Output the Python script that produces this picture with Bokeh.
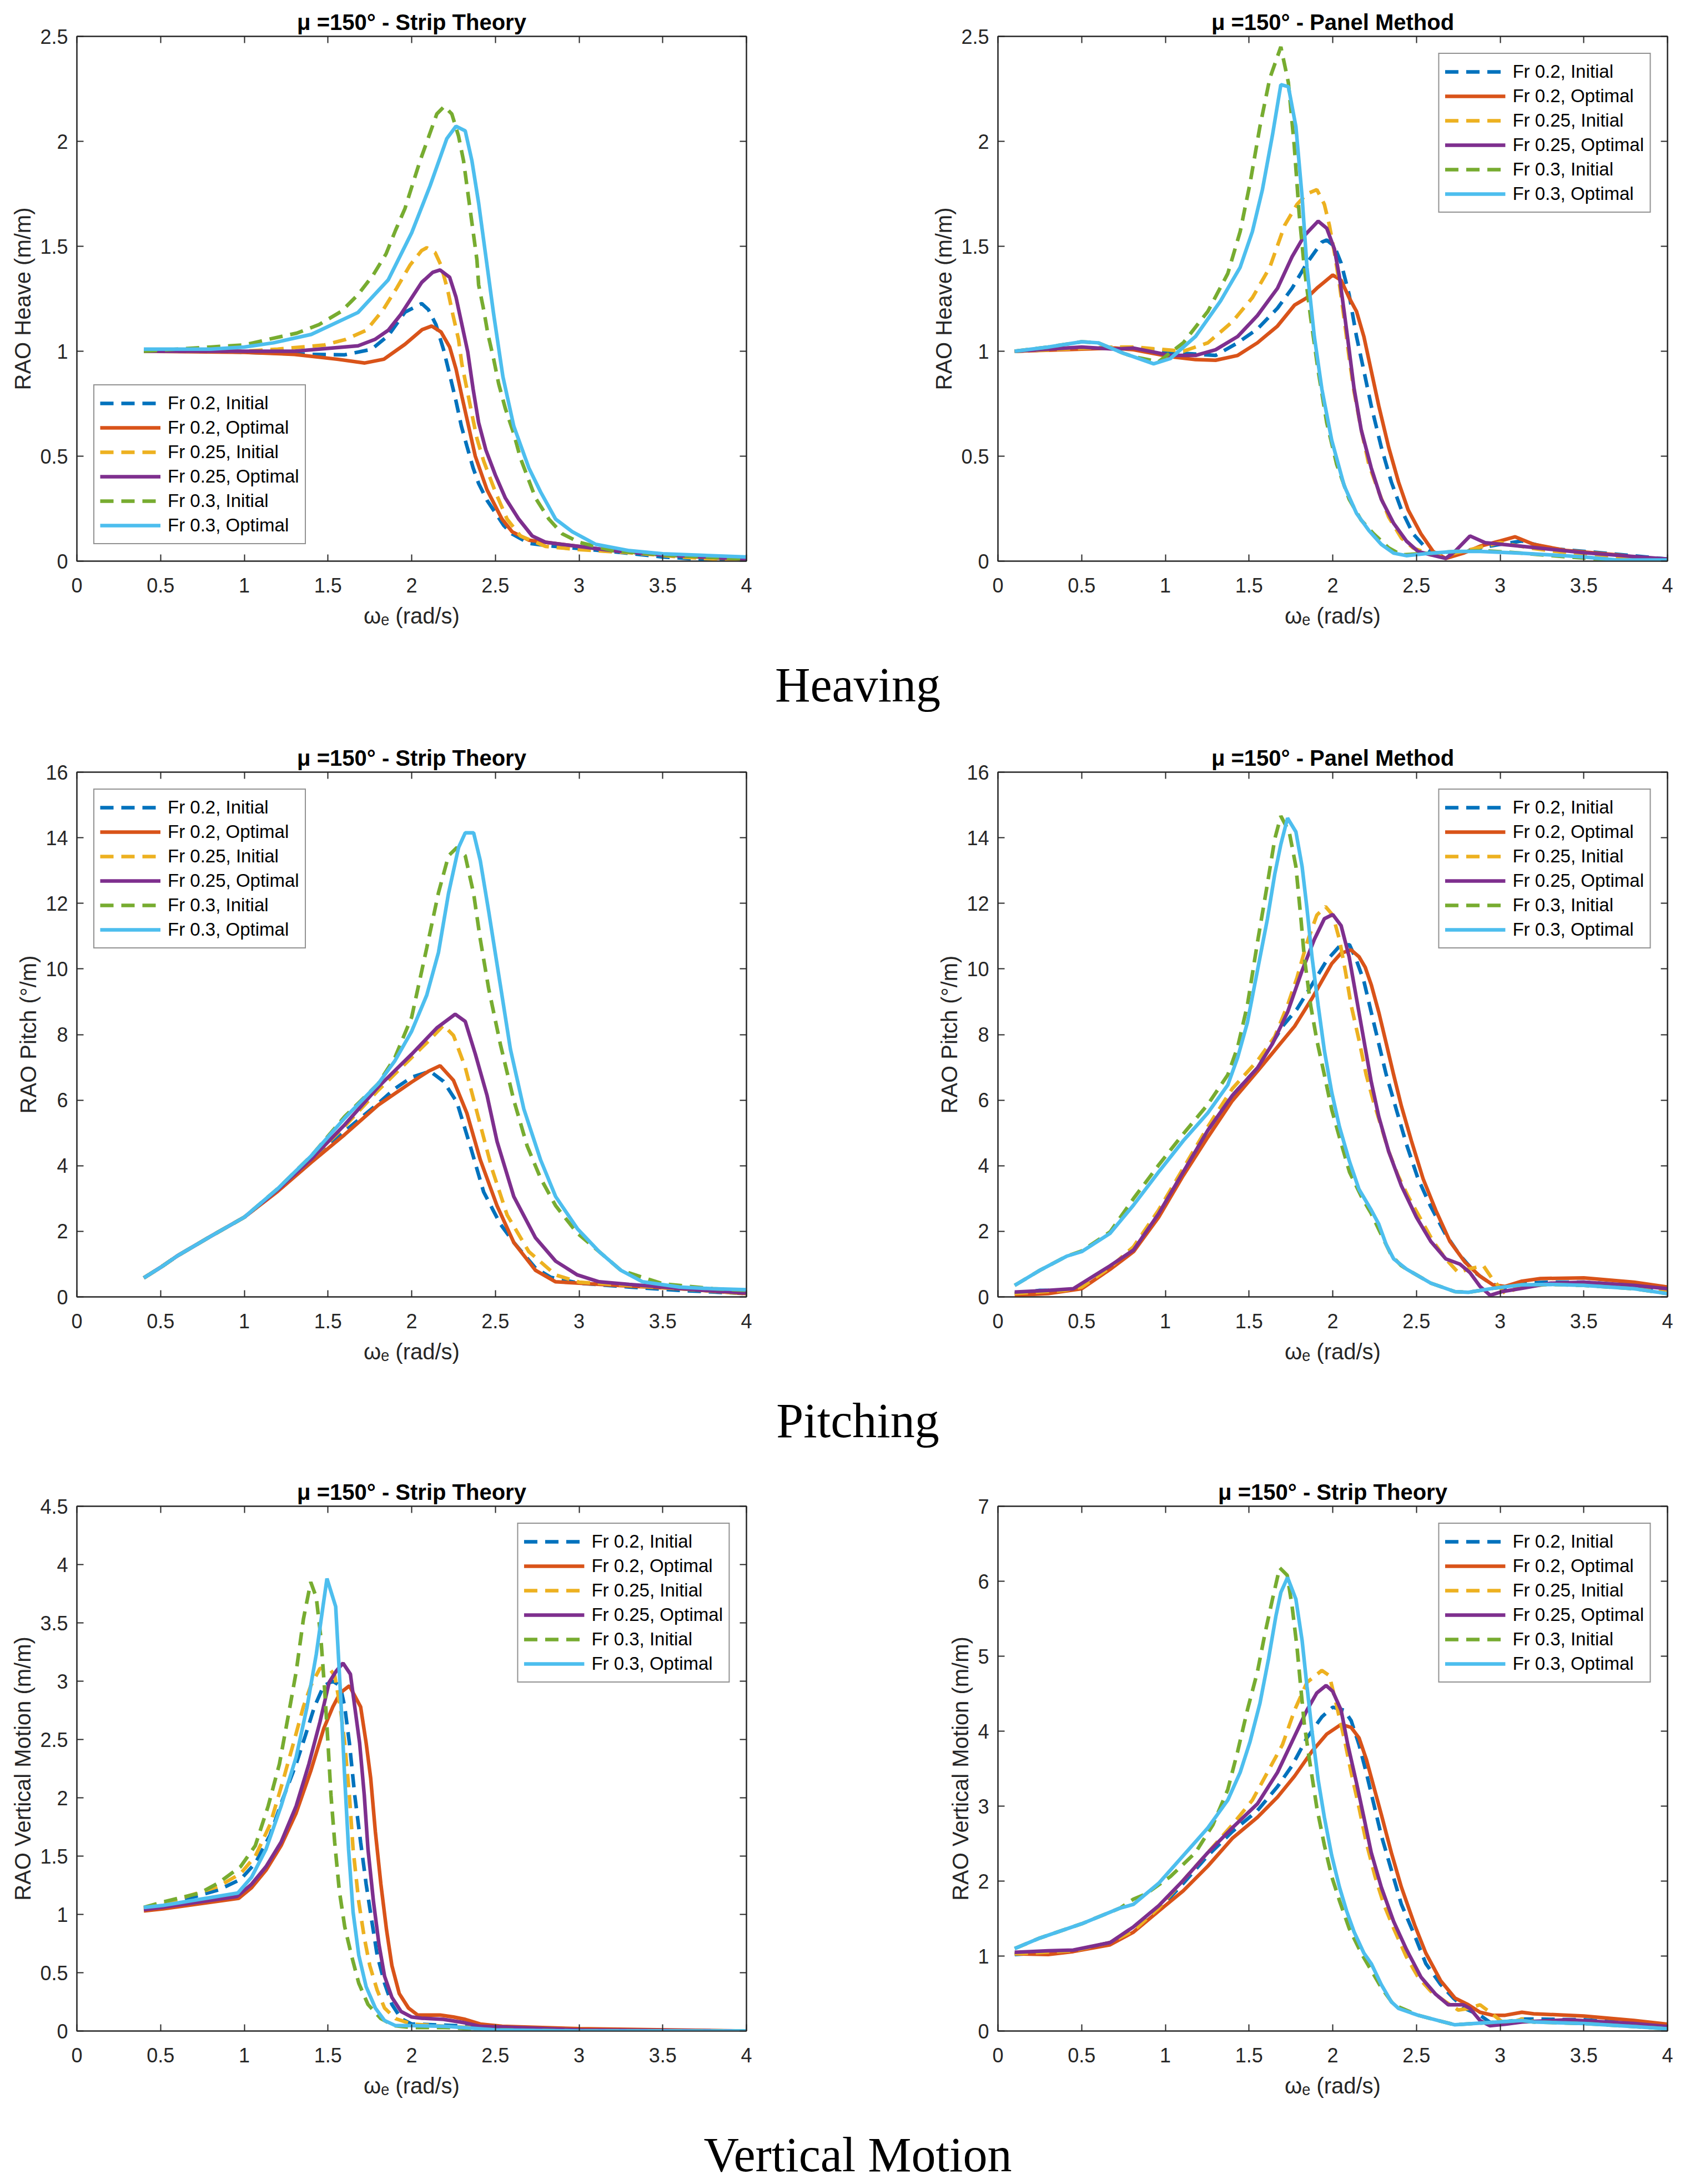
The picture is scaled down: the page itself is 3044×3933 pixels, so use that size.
from bokeh.plotting import figure
from bokeh.models import Range1d, FixedTicker, LinearAxis, CustomJSTickFormatter, Div
from bokeh.layouts import column, row
from bokeh.embed import file_html
from bokeh.resources import INLINE

# ---------------- data ----------------
SERIES_NAMES = ["Fr 0.2, Initial", "Fr 0.2, Optimal", "Fr 0.25, Initial",
                "Fr 0.25, Optimal", "Fr 0.3, Initial", "Fr 0.3, Optimal"]
COLORS = ["#0072BD", "#D95319", "#EDB120", "#7E2F8E", "#77AC30", "#4DBEEE"]

X_TICKS = [0, 0.5, 1, 1.5, 2, 2.5, 3, 3.5, 4]
X_TICK_LABELS = ["0", "0.5", "1", "1.5", "2", "2.5", "3", "3.5", "4"]
HEAVE_TICKS = [0, 0.5, 1, 1.5, 2, 2.5]
HEAVE_TICK_LABELS = ["0", "0.5", "1", "1.5", "2", "2.5"]
PITCH_TICKS = [0, 2, 4, 6, 8, 10, 12, 14, 16]
PITCH_TICK_LABELS = ["0", "2", "4", "6", "8", "10", "12", "14", "16"]
VM1_TICKS = [0, 0.5, 1, 1.5, 2, 2.5, 3, 3.5, 4, 4.5]
VM1_TICK_LABELS = ["0", "0.5", "1", "1.5", "2", "2.5", "3", "3.5", "4", "4.5"]
VM2_TICKS = [0, 1, 2, 3, 4, 5, 6, 7]
VM2_TICK_LABELS = ["0", "1", "2", "3", "4", "5", "6", "7"]

# Heave - strip theory
HS_x02i = [0.4, 0.8, 1.0, 1.2, 1.4, 1.6, 1.76, 1.86, 1.96, 2.06, 2.1, 2.145, 2.19, 2.23, 2.265, 2.297, 2.33, 2.367, 2.4, 2.45, 2.5, 2.55, 2.6, 2.7, 2.8, 3.0, 3.2, 3.5, 3.8, 4.0]
HS_y02i = [1.0, 1.0, 0.995, 0.99, 0.985, 0.983, 1.009, 1.074, 1.186, 1.227, 1.198, 1.127, 1.009, 0.879, 0.762, 0.643, 0.548, 0.444, 0.37, 0.29, 0.23, 0.17, 0.13, 0.085, 0.075, 0.06, 0.045, 0.02, 0.005, 0.0]
HS_x02o = [0.4, 1.0, 1.3, 1.555, 1.72, 1.834, 1.96, 2.063, 2.12, 2.175, 2.227, 2.265, 2.3, 2.34, 2.38, 2.45, 2.54, 2.6, 2.7, 2.8, 3.0, 3.2, 3.5, 3.8, 4.0]
HS_y02o = [1.0, 0.995, 0.985, 0.962, 0.944, 0.962, 1.033, 1.103, 1.12, 1.092, 1.02, 0.915, 0.785, 0.643, 0.5, 0.34, 0.2, 0.14, 0.1, 0.09, 0.07, 0.05, 0.03, 0.015, 0.01]
HS_x025i = [0.4, 1.0, 1.2, 1.48, 1.605, 1.73, 1.83, 1.91, 1.99, 2.06, 2.09, 2.14, 2.175, 2.215, 2.246, 2.28, 2.3, 2.33, 2.36, 2.39, 2.43, 2.5, 2.57, 2.65, 2.8, 3.0, 3.3, 3.6, 4.0]
HS_y025i = [1.0, 1.0, 1.01, 1.03, 1.056, 1.1, 1.198, 1.3, 1.41, 1.48, 1.493, 1.47, 1.41, 1.292, 1.175, 1.056, 0.938, 0.82, 0.7, 0.584, 0.477, 0.33, 0.2, 0.12, 0.07, 0.055, 0.04, 0.02, 0.0]
HS_x025o = [0.4, 1.0, 1.3, 1.68, 1.78, 1.86, 1.935, 2.06, 2.126, 2.17, 2.227, 2.265, 2.3, 2.335, 2.367, 2.4, 2.443, 2.5, 2.56, 2.64, 2.72, 2.8, 3.0, 3.2, 3.5, 4.0]
HS_y025o = [1.0, 1.0, 1.0, 1.026, 1.056, 1.1, 1.175, 1.328, 1.376, 1.387, 1.352, 1.257, 1.127, 0.997, 0.82, 0.66, 0.53, 0.41, 0.3, 0.2, 0.12, 0.09, 0.07, 0.05, 0.03, 0.01]
HS_x03i = [0.4, 0.8, 1.0, 1.174, 1.313, 1.447, 1.58, 1.68, 1.77, 1.847, 1.904, 1.96, 2.005, 2.05, 2.1, 2.15, 2.195, 2.24, 2.28, 2.31, 2.33, 2.35, 2.37, 2.39, 2.4, 2.43, 2.456, 2.49, 2.52, 2.56, 2.61, 2.65, 2.74, 2.82, 2.9, 3.0, 3.2, 3.5, 4.0]
HS_y03i = [1.0, 1.02, 1.03, 1.062, 1.086, 1.127, 1.19, 1.27, 1.363, 1.464, 1.577, 1.68, 1.794, 1.907, 2.018, 2.13, 2.167, 2.13, 2.025, 1.907, 1.788, 1.67, 1.553, 1.434, 1.316, 1.198, 1.08, 0.962, 0.844, 0.726, 0.607, 0.49, 0.3, 0.2, 0.13, 0.09, 0.05, 0.03, 0.01]
HS_x03o = [0.4, 0.8, 1.0, 1.174, 1.4, 1.68, 1.86, 2.0, 2.11, 2.21, 2.265, 2.32, 2.36, 2.4, 2.44, 2.49, 2.545, 2.61, 2.7, 2.77, 2.86, 2.96, 3.1, 3.3, 3.5, 4.0]
HS_y03o = [1.01, 1.01, 1.02, 1.04, 1.08, 1.185, 1.34, 1.564, 1.788, 2.013, 2.072, 2.05, 1.907, 1.706, 1.47, 1.175, 0.879, 0.643, 0.444, 0.33, 0.2, 0.14, 0.08, 0.05, 0.035, 0.02]

# Heave - panel method
HP_x02i = [0.1, 0.4, 0.7, 0.81, 1.107, 1.3, 1.432, 1.55, 1.67, 1.757, 1.846, 1.935, 1.964, 2.01, 2.05, 2.098, 2.142, 2.186, 2.23, 2.29, 2.35, 2.41, 2.48, 2.556, 2.615, 2.73, 2.88, 3.0, 3.13, 3.3, 3.6, 4.0]
HP_y02i = [1.0, 1.01, 1.02, 1.015, 0.99, 0.98, 1.04, 1.106, 1.205, 1.3, 1.42, 1.52, 1.53, 1.5, 1.42, 1.27, 1.07, 0.907, 0.74, 0.543, 0.377, 0.245, 0.13, 0.063, 0.03, 0.038, 0.063, 0.08, 0.096, 0.06, 0.04, 0.01]
HP_x02o = [0.1, 0.5, 0.7, 0.81, 1.03, 1.18, 1.3, 1.432, 1.55, 1.67, 1.772, 1.846, 1.905, 2.0, 2.05, 2.098, 2.142, 2.186, 2.23, 2.275, 2.334, 2.393, 2.45, 2.527, 2.6, 2.675, 2.78, 2.88, 3.0, 3.09, 3.2, 3.4, 3.7, 4.0]
HP_y02o = [1.0, 1.01, 1.015, 1.007, 0.974, 0.96, 0.957, 0.98, 1.04, 1.12, 1.22, 1.255, 1.3, 1.363, 1.338, 1.255, 1.19, 1.07, 0.907, 0.74, 0.543, 0.377, 0.245, 0.13, 0.046, 0.013, 0.038, 0.071, 0.096, 0.116, 0.08, 0.05, 0.03, 0.0]
HP_x025i = [0.1, 0.4, 0.7, 0.81, 1.107, 1.254, 1.4, 1.52, 1.624, 1.713, 1.787, 1.846, 1.905, 1.95, 1.98, 2.01, 2.04, 2.068, 2.098, 2.127, 2.17, 2.216, 2.275, 2.334, 2.41, 2.48, 2.586, 2.73, 3.0, 3.2, 3.5, 4.0]
HP_y025i = [1.0, 1.01, 1.02, 1.02, 1.0, 1.04, 1.14, 1.255, 1.4, 1.6, 1.7, 1.75, 1.77, 1.7, 1.6, 1.47, 1.32, 1.156, 0.97, 0.81, 0.626, 0.46, 0.33, 0.21, 0.11, 0.063, 0.03, 0.038, 0.088, 0.06, 0.03, 0.0]
HP_x025o = [0.1, 0.5, 0.7, 0.81, 1.03, 1.18, 1.3, 1.432, 1.55, 1.67, 1.757, 1.83, 1.913, 1.964, 2.01, 2.04, 2.068, 2.098, 2.127, 2.17, 2.23, 2.29, 2.364, 2.44, 2.51, 2.586, 2.675, 2.73, 2.82, 2.91, 3.13, 3.5, 4.0]
HP_y025o = [1.0, 1.02, 1.01, 1.015, 0.98, 0.98, 1.007, 1.07, 1.17, 1.3, 1.45, 1.55, 1.62, 1.586, 1.487, 1.354, 1.19, 1.007, 0.825, 0.626, 0.444, 0.295, 0.18, 0.096, 0.046, 0.03, 0.013, 0.046, 0.12, 0.088, 0.071, 0.04, 0.01]
HP_x03i = [0.1, 0.3, 0.5, 0.6, 0.75, 0.81, 0.96, 1.107, 1.254, 1.373, 1.447, 1.506, 1.565, 1.624, 1.69, 1.735, 1.77, 1.8, 1.83, 1.868, 1.913, 1.964, 2.024, 2.098, 2.17, 2.245, 2.334, 2.41, 2.586, 2.73, 2.9, 3.1, 3.4, 3.8, 4.0]
HP_y03i = [1.0, 1.02, 1.045, 1.04, 0.99, 0.974, 0.95, 1.04, 1.19, 1.37, 1.57, 1.8, 2.07, 2.3, 2.45, 2.28, 1.98, 1.65, 1.4, 1.16, 0.907, 0.66, 0.46, 0.295, 0.195, 0.13, 0.063, 0.03, 0.038, 0.046, 0.05, 0.04, 0.02, 0.0, 0.0]
HP_x03o = [0.1, 0.3, 0.5, 0.6, 0.75, 0.81, 0.93, 1.03, 1.18, 1.33, 1.447, 1.52, 1.58, 1.64, 1.69, 1.735, 1.78, 1.817, 1.846, 1.89, 1.935, 1.994, 2.068, 2.142, 2.216, 2.29, 2.364, 2.44, 2.586, 2.73, 2.88, 3.13, 3.5, 3.7, 4.0]
HP_y03o = [1.0, 1.02, 1.045, 1.04, 0.99, 0.974, 0.94, 0.965, 1.07, 1.24, 1.4, 1.57, 1.77, 2.03, 2.27, 2.26, 2.07, 1.735, 1.4, 1.07, 0.82, 0.576, 0.36, 0.228, 0.146, 0.08, 0.038, 0.026, 0.038, 0.046, 0.046, 0.038, 0.02, 0.005, 0.005]

# Pitch - strip theory
PS_x02i = [0.4, 0.5, 0.6, 0.8, 1.0, 1.2, 1.4, 1.6, 1.8, 1.9, 2.0, 2.11, 2.19, 2.27, 2.35, 2.43, 2.53, 2.61, 2.74, 2.83, 3.0, 3.3, 3.6, 4.0]
PS_y02i = [0.58, 0.9, 1.25, 1.85, 2.43, 3.25, 4.15, 5.05, 5.9, 6.35, 6.7, 6.88, 6.57, 5.94, 4.6, 3.2, 2.22, 1.66, 0.88, 0.6, 0.42, 0.3, 0.2, 0.1]
PS_x02o = [0.4, 0.5, 0.6, 0.8, 1.0, 1.2, 1.4, 1.6, 1.8, 2.0, 2.1, 2.17, 2.25, 2.33, 2.41, 2.51, 2.61, 2.74, 2.86, 3.0, 3.3, 3.6, 4.0]
PS_y02o = [0.58, 0.9, 1.25, 1.85, 2.43, 3.22, 4.1, 4.95, 5.85, 6.55, 6.88, 7.05, 6.6, 5.6, 4.18, 2.78, 1.66, 0.81, 0.46, 0.42, 0.33, 0.25, 0.1]
PS_x025i = [0.4, 0.5, 0.6, 0.8, 1.0, 1.2, 1.4, 1.6, 1.8, 2.0, 2.1, 2.19, 2.25, 2.32, 2.4, 2.48, 2.57, 2.7, 2.86, 3.0, 3.3, 3.6, 4.0]
PS_y025i = [0.58, 0.9, 1.25, 1.85, 2.43, 3.27, 4.2, 5.2, 6.3, 7.3, 7.8, 8.28, 7.97, 7.0, 5.44, 3.9, 2.5, 1.38, 0.67, 0.45, 0.35, 0.25, 0.1]
PS_x025o = [0.4, 0.5, 0.6, 0.8, 1.0, 1.2, 1.4, 1.6, 1.8, 2.0, 2.15, 2.26, 2.32, 2.38, 2.45, 2.51, 2.61, 2.74, 2.86, 2.99, 3.12, 3.3, 3.5, 3.8, 4.0]
PS_y025o = [0.58, 0.9, 1.25, 1.85, 2.43, 3.27, 4.2, 5.25, 6.4, 7.4, 8.2, 8.62, 8.4, 7.41, 6.15, 4.74, 3.06, 1.8, 1.09, 0.67, 0.46, 0.38, 0.3, 0.18, 0.12]
PS_x03i = [0.4, 0.5, 0.6, 0.8, 1.0, 1.2, 1.4, 1.6, 1.8, 1.9, 2.0, 2.09, 2.16, 2.22, 2.27, 2.32, 2.37, 2.41, 2.46, 2.53, 2.61, 2.69, 2.77, 2.86, 2.99, 3.12, 3.25, 3.5, 3.8, 4.0]
PS_y03i = [0.58, 0.9, 1.25, 1.85, 2.43, 3.3, 4.3, 5.5, 6.5, 7.3, 8.53, 10.64, 12.32, 13.45, 13.7, 13.45, 12.3, 10.9, 9.4, 7.7, 6.0, 4.6, 3.62, 2.78, 1.94, 1.38, 0.81, 0.4, 0.25, 0.2]
PS_x03o = [0.4, 0.5, 0.6, 0.8, 1.0, 1.2, 1.4, 1.6, 1.8, 1.9, 2.0, 2.09, 2.16, 2.22, 2.28, 2.32, 2.37, 2.41, 2.46, 2.53, 2.59, 2.67, 2.77, 2.86, 2.99, 3.12, 3.25, 3.38, 3.6, 3.8, 4.0]
PS_y03o = [0.58, 0.9, 1.25, 1.85, 2.43, 3.3, 4.3, 5.45, 6.5, 7.2, 8.1, 9.2, 10.5, 12.3, 13.7, 14.15, 14.15, 13.3, 11.76, 9.5, 7.55, 5.73, 4.18, 3.06, 2.08, 1.38, 0.81, 0.46, 0.3, 0.25, 0.22]

# Pitch - panel method
PP_x02i = [0.1, 0.25, 0.4, 0.5, 0.67, 0.81, 0.96, 1.107, 1.254, 1.4, 1.55, 1.7, 1.787, 1.876, 1.964, 2.04, 2.1, 2.142, 2.186, 2.23, 2.275, 2.32, 2.38, 2.44, 2.51, 2.586, 2.675, 2.76, 2.85, 2.94, 3.03, 3.13, 3.3, 3.5, 3.8, 4.0]
PP_y02i = [0.1, 0.2, 0.2, 0.3, 0.88, 1.48, 2.54, 3.81, 5.08, 6.14, 6.98, 8.25, 8.78, 9.52, 10.26, 10.69, 10.74, 10.26, 9.63, 8.68, 7.72, 6.77, 5.71, 4.66, 3.6, 2.75, 1.9, 1.27, 0.74, 0.42, 0.26, 0.42, 0.45, 0.45, 0.35, 0.2]
PP_x02o = [0.1, 0.3, 0.5, 0.67, 0.81, 0.96, 1.107, 1.254, 1.4, 1.55, 1.67, 1.772, 1.876, 1.935, 1.994, 2.05, 2.11, 2.157, 2.194, 2.23, 2.275, 2.32, 2.364, 2.41, 2.47, 2.54, 2.615, 2.7, 2.79, 2.88, 2.956, 3.03, 3.13, 3.24, 3.5, 3.8, 4.0]
PP_y02o = [0.05, 0.1, 0.25, 0.84, 1.38, 2.43, 3.7, 4.87, 5.98, 6.88, 7.62, 8.25, 9.1, 9.63, 10.16, 10.48, 10.58, 10.37, 10.05, 9.52, 8.68, 7.72, 6.77, 5.82, 4.76, 3.6, 2.65, 1.69, 1.06, 0.63, 0.37, 0.32, 0.48, 0.56, 0.58, 0.45, 0.3]
PP_x025i = [0.1, 0.4, 0.5, 0.67, 0.81, 0.96, 1.107, 1.254, 1.4, 1.55, 1.654, 1.73, 1.787, 1.846, 1.905, 1.957, 2.0, 2.04, 2.075, 2.11, 2.157, 2.2, 2.245, 2.29, 2.334, 2.39, 2.45, 2.53, 2.6, 2.675, 2.75, 2.81, 2.9, 2.956, 3.03, 3.13, 3.3, 3.5, 4.0]
PP_y025i = [0.1, 0.2, 0.3, 0.9, 1.53, 2.65, 3.92, 5.19, 6.35, 7.2, 7.94, 8.89, 9.74, 10.8, 11.64, 11.9, 11.64, 10.9, 9.95, 8.89, 7.83, 6.77, 5.93, 5.19, 4.44, 3.7, 3.07, 2.33, 1.69, 1.16, 0.74, 0.85, 0.95, 0.53, 0.106, 0.32, 0.38, 0.4, 0.2]
PP_x025o = [0.1, 0.3, 0.45, 0.67, 0.81, 0.96, 1.107, 1.254, 1.4, 1.55, 1.64, 1.73, 1.817, 1.89, 1.95, 2.0, 2.05, 2.098, 2.142, 2.186, 2.23, 2.275, 2.334, 2.41, 2.5, 2.586, 2.675, 2.76, 2.82, 2.88, 2.94, 3.01, 3.13, 3.3, 3.5, 3.8, 4.0]
PP_y025o = [0.15, 0.2, 0.25, 0.95, 1.43, 2.54, 3.81, 5.08, 6.14, 6.98, 7.72, 8.68, 9.95, 10.9, 11.53, 11.66, 11.32, 10.37, 9.1, 7.83, 6.56, 5.5, 4.44, 3.39, 2.43, 1.69, 1.16, 1.0, 0.74, 0.32, 0.05, 0.16, 0.26, 0.42, 0.45, 0.35, 0.25]
PP_x03i = [0.1, 0.25, 0.41, 0.5, 0.67, 0.81, 0.96, 1.107, 1.254, 1.373, 1.432, 1.49, 1.55, 1.61, 1.654, 1.69, 1.74, 1.78, 1.81, 1.83, 1.868, 1.905, 1.95, 1.994, 2.04, 2.1, 2.17, 2.23, 2.29, 2.35, 2.41, 2.44, 2.586, 2.73, 2.81, 2.956, 3.13, 3.3, 3.5, 3.8, 4.0]
PP_y03i = [0.35, 0.81, 1.24, 1.4, 1.98, 3.0, 4.02, 4.97, 5.87, 6.77, 7.62, 8.89, 10.8, 12.6, 13.97, 14.66, 14.18, 13.12, 11.53, 10.37, 8.89, 7.83, 6.77, 5.71, 4.87, 3.81, 3.07, 2.54, 1.9, 1.27, 0.95, 0.85, 0.42, 0.16, 0.14, 0.26, 0.37, 0.38, 0.35, 0.25, 0.1]
PP_x03o = [0.1, 0.25, 0.41, 0.5, 0.67, 0.81, 0.96, 1.107, 1.254, 1.373, 1.432, 1.49, 1.55, 1.61, 1.654, 1.69, 1.73, 1.78, 1.817, 1.846, 1.876, 1.913, 1.95, 1.994, 2.04, 2.1, 2.157, 2.23, 2.275, 2.32, 2.364, 2.44, 2.586, 2.73, 2.81, 2.956, 3.13, 3.3, 3.5, 3.8, 4.0]
PP_y03o = [0.35, 0.81, 1.24, 1.38, 1.94, 2.8, 3.81, 4.76, 5.61, 6.46, 7.3, 8.36, 9.95, 11.53, 12.9, 13.8, 14.6, 14.18, 13.12, 11.85, 10.37, 8.89, 7.51, 6.24, 5.19, 4.13, 3.28, 2.65, 2.22, 1.59, 1.16, 0.85, 0.42, 0.16, 0.14, 0.26, 0.37, 0.38, 0.35, 0.25, 0.1]

# Vertical motion - strip theory (left)
VS_x02i = [0.4, 0.515, 0.846, 0.978, 1.066, 1.154, 1.23, 1.31, 1.364, 1.419, 1.474, 1.529, 1.573, 1.6, 1.628, 1.66, 1.695, 1.728, 1.76, 1.794, 1.838, 1.882, 1.937, 2.0, 2.2, 2.5, 3.0, 4.0]
VS_y02i = [1.05, 1.077, 1.21, 1.3, 1.44, 1.68, 1.99, 2.29, 2.53, 2.78, 2.96, 3.0, 2.96, 2.78, 2.47, 2.02, 1.62, 1.26, 0.96, 0.65, 0.41, 0.228, 0.106, 0.06, 0.05, 0.03, 0.01, 0.0]
VS_x02o = [0.4, 0.515, 0.967, 1.044, 1.13, 1.22, 1.31, 1.397, 1.474, 1.529, 1.573, 1.628, 1.695, 1.728, 1.755, 1.783, 1.816, 1.85, 1.882, 1.926, 1.981, 2.036, 2.17, 2.25, 2.32, 2.41, 2.54, 3.0, 4.0]
VS_y02o = [1.03, 1.047, 1.138, 1.23, 1.38, 1.59, 1.87, 2.23, 2.59, 2.78, 2.9, 2.96, 2.78, 2.47, 2.17, 1.71, 1.26, 0.865, 0.56, 0.32, 0.197, 0.137, 0.137, 0.12, 0.1, 0.06, 0.04, 0.02, 0.0]
VS_x025i = [0.4, 0.515, 0.846, 0.978, 1.066, 1.154, 1.23, 1.3, 1.353, 1.397, 1.452, 1.507, 1.54, 1.573, 1.6, 1.628, 1.65, 1.684, 1.717, 1.75, 1.794, 1.838, 1.904, 2.0, 2.2, 2.5, 3.0, 4.0]
VS_y025i = [1.05, 1.09, 1.24, 1.35, 1.5, 1.77, 2.14, 2.5, 2.78, 2.96, 3.11, 3.11, 3.05, 2.78, 2.47, 2.02, 1.56, 1.107, 0.8, 0.56, 0.35, 0.197, 0.106, 0.06, 0.04, 0.02, 0.0, 0.0]
VS_x025o = [0.4, 0.515, 0.956, 1.044, 1.13, 1.22, 1.31, 1.386, 1.452, 1.507, 1.551, 1.59, 1.634, 1.66, 1.689, 1.717, 1.739, 1.772, 1.805, 1.838, 1.882, 1.937, 2.0, 2.06, 2.19, 2.32, 2.41, 3.0, 4.0]
VS_y025o = [1.04, 1.062, 1.153, 1.26, 1.41, 1.62, 1.93, 2.29, 2.65, 2.99, 3.09, 3.155, 3.06, 2.78, 2.47, 2.02, 1.56, 1.107, 0.74, 0.47, 0.288, 0.167, 0.12, 0.11, 0.1, 0.07, 0.04, 0.01, 0.0]
VS_x03i = [0.4, 0.515, 0.735, 0.846, 0.978, 1.066, 1.143, 1.21, 1.265, 1.31, 1.353, 1.397, 1.43, 1.457, 1.48, 1.5, 1.518, 1.54, 1.568, 1.6, 1.64, 1.684, 1.739, 1.816, 1.893, 2.0, 2.2, 2.5, 3.0, 4.0]
VS_y03i = [1.06, 1.107, 1.183, 1.27, 1.41, 1.59, 1.93, 2.29, 2.72, 3.08, 3.53, 3.85, 3.72, 3.38, 2.93, 2.47, 2.02, 1.62, 1.2, 0.895, 0.65, 0.41, 0.228, 0.106, 0.046, 0.03, 0.03, 0.01, 0.0, 0.0]
VS_x03o = [0.4, 0.515, 0.961, 1.044, 1.13, 1.22, 1.31, 1.375, 1.43, 1.469, 1.494, 1.546, 1.562, 1.579, 1.6, 1.623, 1.65, 1.684, 1.728, 1.783, 1.838, 1.904, 2.0, 2.2, 2.5, 3.0, 4.0]
VS_y03o = [1.06, 1.077, 1.183, 1.32, 1.56, 1.93, 2.35, 2.78, 3.23, 3.63, 3.88, 3.64, 3.23, 2.78, 2.17, 1.56, 1.02, 0.65, 0.38, 0.197, 0.09, 0.046, 0.046, 0.04, 0.01, 0.0, 0.0]

# Vertical motion - right panel
VP_x02i = [0.1, 0.3, 0.45, 0.67, 0.81, 0.96, 1.107, 1.254, 1.4, 1.55, 1.67, 1.757, 1.846, 1.935, 2.0, 2.068, 2.11, 2.157, 2.2, 2.245, 2.29, 2.35, 2.41, 2.49, 2.556, 2.645, 2.72, 2.79, 2.88, 2.956, 3.03, 3.13, 3.2, 3.5, 3.8, 4.0]
VP_y02i = [1.02, 1.05, 1.07, 1.18, 1.37, 1.62, 1.97, 2.34, 2.66, 2.94, 3.26, 3.54, 3.91, 4.19, 4.32, 4.28, 4.14, 3.82, 3.45, 3.03, 2.61, 2.15, 1.69, 1.27, 0.9, 0.62, 0.44, 0.3, 0.21, 0.09, 0.12, 0.16, 0.16, 0.15, 0.1, 0.05]
VP_x02o = [0.1, 0.3, 0.45, 0.67, 0.81, 0.96, 1.107, 1.254, 1.4, 1.55, 1.67, 1.772, 1.876, 1.964, 2.05, 2.11, 2.157, 2.2, 2.245, 2.29, 2.35, 2.41, 2.49, 2.556, 2.645, 2.73, 2.81, 2.88, 2.956, 3.03, 3.13, 3.2, 3.5, 3.8, 4.0]
VP_y02o = [1.03, 1.02, 1.06, 1.15, 1.32, 1.6, 1.87, 2.2, 2.57, 2.85, 3.12, 3.4, 3.73, 3.96, 4.09, 4.05, 3.91, 3.63, 3.26, 2.89, 2.38, 1.92, 1.41, 1.04, 0.67, 0.44, 0.35, 0.25, 0.21, 0.21, 0.25, 0.23, 0.2, 0.14, 0.09]
VP_x025i = [0.1, 0.45, 0.67, 0.81, 0.96, 1.107, 1.254, 1.4, 1.52, 1.61, 1.7, 1.772, 1.846, 1.935, 1.98, 2.02, 2.068, 2.11, 2.157, 2.2, 2.253, 2.305, 2.364, 2.44, 2.51, 2.586, 2.675, 2.75, 2.81, 2.88, 2.94, 3.03, 3.13, 3.2, 3.5, 4.0]
VP_y025i = [1.03, 1.07, 1.18, 1.34, 1.64, 2.01, 2.38, 2.75, 3.08, 3.45, 3.82, 4.28, 4.65, 4.81, 4.74, 4.37, 3.91, 3.45, 2.98, 2.52, 2.06, 1.69, 1.37, 0.99, 0.72, 0.53, 0.39, 0.28, 0.3, 0.35, 0.25, 0.09, 0.16, 0.13, 0.12, 0.05]
VP_x025o = [0.1, 0.3, 0.45, 0.67, 0.81, 0.96, 1.107, 1.254, 1.4, 1.55, 1.67, 1.757, 1.846, 1.905, 1.96, 2.0, 2.05, 2.09, 2.142, 2.186, 2.23, 2.29, 2.364, 2.44, 2.527, 2.615, 2.69, 2.78, 2.82, 2.88, 2.94, 3.03, 3.13, 3.4, 3.8, 4.0]
VP_y025o = [1.05, 1.07, 1.08, 1.18, 1.39, 1.67, 2.01, 2.38, 2.71, 3.03, 3.45, 3.86, 4.28, 4.51, 4.61, 4.53, 4.28, 3.82, 3.31, 2.85, 2.38, 1.92, 1.46, 1.09, 0.72, 0.49, 0.35, 0.35, 0.3, 0.14, 0.07, 0.09, 0.12, 0.15, 0.1, 0.06]
VP_x03i = [0.1, 0.25, 0.5, 0.73, 0.81, 0.885, 1.03, 1.18, 1.284, 1.373, 1.432, 1.49, 1.55, 1.595, 1.64, 1.683, 1.728, 1.757, 1.787, 1.81, 1.83, 1.86, 1.905, 1.95, 1.994, 2.04, 2.098, 2.17, 2.23, 2.29, 2.364, 2.51, 2.63, 2.73, 2.88, 3.13, 3.2, 3.5, 3.8, 4.0]
VP_y03i = [1.1, 1.24, 1.43, 1.64, 1.76, 1.83, 2.06, 2.38, 2.75, 3.22, 3.73, 4.28, 4.79, 5.3, 5.76, 6.18, 6.08, 5.67, 5.11, 4.56, 4.1, 3.63, 2.98, 2.48, 2.06, 1.74, 1.37, 1.04, 0.81, 0.58, 0.35, 0.21, 0.14, 0.083, 0.106, 0.14, 0.12, 0.1, 0.06, 0.03]
VP_x03o = [0.1, 0.25, 0.5, 0.73, 0.81, 0.96, 1.107, 1.254, 1.373, 1.447, 1.506, 1.565, 1.617, 1.66, 1.69, 1.73, 1.78, 1.817, 1.846, 1.876, 1.913, 1.95, 1.994, 2.04, 2.083, 2.128, 2.186, 2.23, 2.29, 2.35, 2.394, 2.51, 2.63, 2.73, 2.88, 3.13, 3.2, 3.5, 3.8, 4.0]
VP_y03o = [1.1, 1.24, 1.43, 1.64, 1.69, 1.97, 2.34, 2.71, 3.08, 3.45, 3.86, 4.37, 4.97, 5.53, 5.85, 6.05, 5.76, 5.21, 4.6, 4.0, 3.35, 2.85, 2.34, 1.92, 1.6, 1.32, 1.04, 0.9, 0.62, 0.39, 0.3, 0.21, 0.14, 0.083, 0.106, 0.14, 0.12, 0.1, 0.06, 0.03]

# ---------------- styling ----------------
FONT = "Liberation Sans"
AX_COLOR = "#262626"
FRAME_W, FRAME_H = 1206, 945


def tick_formatter(ticks, labels):
    return CustomJSTickFormatter(args=dict(t=ticks, l=labels),
                                 code="const i = t.indexOf(tick); return i >= 0 ? l[i] : '';")


def style_axis(ax, ticks, labels, show_labels):
    ax.ticker = FixedTicker(ticks=ticks)
    ax.formatter = tick_formatter(ticks, labels)
    ax.major_tick_in = 12
    ax.major_tick_out = 0
    ax.minor_tick_line_color = None
    ax.axis_line_color = AX_COLOR
    ax.axis_line_width = 2
    ax.major_tick_line_color = AX_COLOR
    ax.major_tick_line_width = 2
    ax.major_label_text_font = FONT
    if show_labels:
        ax.major_label_text_color = AX_COLOR
        ax.major_label_text_font_size = "36px"
    else:
        ax.major_label_text_color = None
        ax.major_label_text_alpha = 0
        ax.major_label_text_font_size = "0px"
        ax.major_label_standoff = 0
    ax.axis_label_text_font = FONT
    ax.axis_label_text_font_size = "40px"
    ax.axis_label_text_font_style = "normal"
    ax.axis_label_text_color = AX_COLOR


def make_fig(title, ylabel, ymax, yticks, yticklabels, xs, ys, legend_loc, left):
    p = figure(frame_width=FRAME_W, frame_height=FRAME_H,
               min_border_left=138 if left else 433,
               min_border_right=20 if left else 10,
               min_border_top=65, min_border_bottom=140,
               x_range=Range1d(0, 4), y_range=Range1d(0, ymax),
               output_backend="svg", toolbar_location=None, title=title)
    p.title.align = "center"
    p.title.text_font = FONT
    p.title.text_font_size = "40px"
    p.title.text_font_style = "bold"
    p.title.text_color = "#000000"
    p.title.standoff = 8
    p.grid.visible = False
    p.outline_line_color = AX_COLOR
    p.outline_line_width = 2
    p.background_fill_color = "white"
    p.border_fill_color = "white"

    style_axis(p.xaxis[0], X_TICKS, X_TICK_LABELS, True)
    p.xaxis[0].axis_label = "ωₑ (rad/s)"
    p.xaxis[0].major_label_standoff = 30
    p.xaxis[0].axis_label_standoff = 17
    style_axis(p.yaxis[0], yticks, yticklabels, True)
    p.yaxis[0].axis_label = ylabel
    p.yaxis[0].major_label_standoff = 16
    p.yaxis[0].axis_label_standoff = 6

    top = LinearAxis()
    style_axis(top, X_TICKS, X_TICK_LABELS, False)
    p.add_layout(top, "above")
    rt = LinearAxis()
    style_axis(rt, yticks, yticklabels, False)
    p.add_layout(rt, "right")

    for i in range(6):
        dash = "24 14" if i % 2 == 0 else "solid"
        p.line(xs[i], ys[i], line_color=COLORS[i], line_width=6.5, line_dash=dash,
               legend_label=SERIES_NAMES[i])

    lg = p.legend[0]
    lg.location = legend_loc
    lg.margin = 30
    lg.padding = 10
    lg.spacing = 0
    lg.label_height = 44
    lg.glyph_height = 44
    lg.glyph_width = 109
    lg.label_standoff = 13
    lg.label_text_font = FONT
    lg.label_text_font_size = "33px"
    lg.label_text_color = "#000000"
    lg.border_line_color = AX_COLOR
    lg.border_line_width = 2
    lg.background_fill_color = "white"
    lg.background_fill_alpha = 1.0
    return p


def caption(text, h):
    html = ('<div style="width:3013px;box-sizing:border-box;padding-left:77px;'
            'padding-top:40px;text-align:center;font-family:\'Liberation Serif\',serif;'
            'font-size:88px;line-height:88px;color:#000;white-space:nowrap;">' + text + '</div>')
    return Div(text=html, width=3013, height=h, margin=0, styles={"overflow": "visible"})


f1 = make_fig("μ =150° - Strip Theory", "RAO Heave (m/m)", 2.5, HEAVE_TICKS, HEAVE_TICK_LABELS,
              [HS_x02i, HS_x02o, HS_x025i, HS_x025o, HS_x03i, HS_x03o],
              [HS_y02i, HS_y02o, HS_y025i, HS_y025o, HS_y03i, HS_y03o], "bottom_left", True)
f2 = make_fig("μ =150° - Panel Method", "RAO Heave (m/m)", 2.5, HEAVE_TICKS, HEAVE_TICK_LABELS,
              [HP_x02i, HP_x02o, HP_x025i, HP_x025o, HP_x03i, HP_x03o],
              [HP_y02i, HP_y02o, HP_y025i, HP_y025o, HP_y03i, HP_y03o], "top_right", False)
f3 = make_fig("μ =150° - Strip Theory", "RAO Pitch (°/m)", 16, PITCH_TICKS, PITCH_TICK_LABELS,
              [PS_x02i, PS_x02o, PS_x025i, PS_x025o, PS_x03i, PS_x03o],
              [PS_y02i, PS_y02o, PS_y025i, PS_y025o, PS_y03i, PS_y03o], "top_left", True)
f4 = make_fig("μ =150° - Panel Method", "RAO Pitch (°/m)", 16, PITCH_TICKS, PITCH_TICK_LABELS,
              [PP_x02i, PP_x02o, PP_x025i, PP_x025o, PP_x03i, PP_x03o],
              [PP_y02i, PP_y02o, PP_y025i, PP_y025o, PP_y03i, PP_y03o], "top_right", False)
f5 = make_fig("μ =150° - Strip Theory", "RAO Vertical Motion (m/m)", 4.5, VM1_TICKS, VM1_TICK_LABELS,
              [VS_x02i, VS_x02o, VS_x025i, VS_x025o, VS_x03i, VS_x03o],
              [VS_y02i, VS_y02o, VS_y025i, VS_y025o, VS_y03i, VS_y03o], "top_right", True)
f6 = make_fig("μ =150° - Strip Theory", "RAO Vertical Motion (m/m)", 7, VM2_TICKS, VM2_TICK_LABELS,
              [VP_x02i, VP_x02o, VP_x025i, VP_x025o, VP_x03i, VP_x03o],
              [VP_y02i, VP_y02o, VP_y025i, VP_y025o, VP_y03i, VP_y03o], "top_right", False)

layout = column(row(f1, f2), caption("Heaving", 175),
                row(f3, f4), caption("Pitching", 172),
                row(f5, f6), caption("Vertical Motion", 120))

open("out.html", "w").write(file_html(layout, INLINE))
